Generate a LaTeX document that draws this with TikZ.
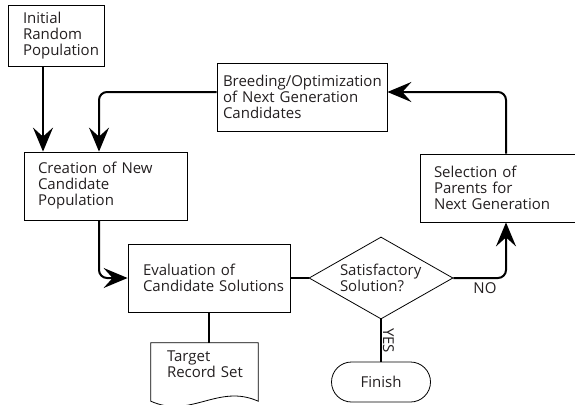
\documentclass[tikz,border=0pt]{standalone}
\usepackage{fontspec}
\setmainfont{Open Sans}
\usetikzlibrary{shapes.geometric,arrows.meta}
\definecolor{ink}{HTML}{231F20}

\begin{document}
\begin{tikzpicture}[x=1pt,y=-1pt,
  every node/.style={font=\fontsize{15}{16}\selectfont,text=ink},
  box node/.style={rectangle,draw,line width=0.8pt,align=left,minimum height=68pt},
  flow/.style={line width=2pt,rounded corners=8pt,-{Stealth[length=24pt,width=20pt,inset=9pt]}},
  link/.style={line width=2pt}]
\useasboundingbox (0,0) rectangle (575,404);
%start
  \node[box node,minimum height=61pt,text width=66pt,inner xsep=15pt] (init) at (56,35.5) {Initial\\Random\\Population};
%creation
  \node[box node,text width=135pt,inner xsep=14pt] (create) at (105.5,186) {Creation of New\\Candidate\\Population};
%breeding
  \node[box node,text width=158pt,inner xsep=6pt] (breed) at (302,97) {Breeding/Optimization\\of Next Generation\\Candidates};
%selection
  \node[box node,text width=130pt,inner xsep=14pt] (select) at (499,188) {Selection of\\Parents for\\Next Generation};
%evaluation
  \node[box node,text width=132pt,inner xsep=15pt] (eval) at (209,278) {Evaluation of\\\mbox{Candidate Solutions}};
%decision
  \node[diamond,draw,line width=0.8pt,aspect=1.75,minimum width=144pt,minimum height=82pt,
    inner sep=0pt,text width=82pt,align=left] (decide) at (381,278) {Satisfactory\\Solution?};
%end
  \node[draw,line width=0.8pt,rounded corners=20pt,minimum width=99pt,minimum height=40pt] (finish) at (381,382) {Finish};
%record set
  \node[rectangle,align=left,minimum height=42pt,text width=75pt,inner xsep=16pt] (target) at (204.5,364) {Target\\\mbox{Record Set}};
  \draw[line width=0.8pt] (target.north west) -- (target.north east) -- ([yshift=-16pt]target.south east)
    .. controls +(-40,-18) and +(40,18) .. ([yshift=-16pt]target.south west) -- cycle;
%paths
  \draw[flow] ([xshift=-13pt]init.south) -- ([xshift=-13pt]init.south |- create.north);
  \draw[flow] ([yshift=5pt]breed.west) -| ([xshift=-6.5pt]create.north);
  \draw[flow] ([xshift=7pt]select.north) |- ([yshift=5pt]breed.east);
  \draw[flow] ([xshift=-6.5pt]create.south) |- (eval.west);
  \draw[link] (eval) -- (decide);
  \draw[flow] (decide.east) -| node[below,pos=0.3] {NO} ([xshift=7pt]select.south);
  \draw[link] (decide.south) -- node[rotate=-90,anchor=south,inner sep=1pt] {YES} (finish.north);
  \draw[link] (eval.south) -- (eval.south |- target.north);
\end{tikzpicture}
\end{document}
